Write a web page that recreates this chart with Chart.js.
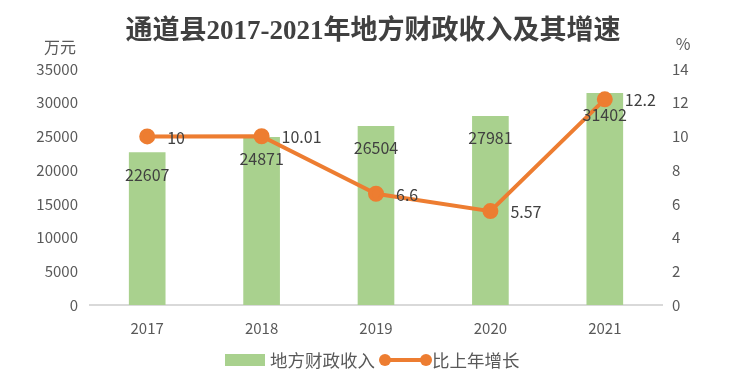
<!DOCTYPE html>
<html>
<head>
<meta charset="utf-8">
<script src="https://cdn.jsdelivr.net/npm/chart.js@4/dist/chart.umd.min.js"></script>
<style>
  html, body { margin: 0; padding: 0; background: #fff; }
  #wrap { width: 746px; height: 390px; }
</style>
</head>
<body>
<div id="wrap"><canvas id="c" width="746" height="390"></canvas></div>
<script>
// ── 数据 ──────────────────────────────────────────────
var years   = ['2017', '2018', '2019', '2020', '2021'];
var revenue = [22607, 24871, 26504, 27981, 31402];   // 万元
var growth  = [10, 10.01, 6.6, 5.57, 12.2];          // %
var growthLabels = ['10', '10.01', '6.6', '5.57', '12.2'];

var GREEN = '#A9D18E';
var ORANGE = '#ED7D31';
var TEXT = '#404040';
var TICK = '#595959';
var SANS = '"Microsoft YaHei", "Noto Sans CJK SC", "Open Sans", sans-serif';

// 标题、单位、数据标签、图例 —— 全部画在 canvas 上
var decor = {
  id: 'decor',
  afterDraw: function (chart) {
    var ctx = chart.ctx;
    ctx.save();

    // 标题
    ctx.fillStyle = TEXT;
    ctx.font = 'bold 27px "Liberation Serif", "Noto Sans CJK SC", serif';
    ctx.textAlign = 'center';
    ctx.textBaseline = 'middle';
    ctx.fillText('通道县2017-2021年地方财政收入及其增速', 373, 32);

    // 单位
    ctx.fillStyle = TICK;
    ctx.font = '16px ' + SANS;
    ctx.fillText('万元', 60, 47);
    ctx.fillText('%', 683, 44);

    // 柱子标签（柱顶内侧）
    ctx.fillStyle = TEXT;
    ctx.font = '16px ' + SANS;
    var bars = chart.getDatasetMeta(0).data;
    bars.forEach(function (b, i) {
      ctx.textAlign = 'center';
      ctx.fillText(String(revenue[i]), b.x, b.y + 22);
    });

    // 折线标签（点右侧）
    var pts = chart.getDatasetMeta(1).data;
    pts.forEach(function (p, i) {
      ctx.textAlign = 'left';
      ctx.fillText(growthLabels[i], p.x + 20, p.y + 1);
    });

    // 图例
    var ly = 360;
    ctx.fillStyle = GREEN;
    ctx.fillRect(225, ly - 6, 40, 12);
    ctx.fillStyle = TICK;
    ctx.font = '17.5px ' + SANS;
    ctx.textAlign = 'left';
    ctx.fillText('地方财政收入', 270, ly);
    ctx.strokeStyle = ORANGE;
    ctx.lineWidth = 4;
    ctx.beginPath();
    ctx.moveTo(385, ly);
    ctx.lineTo(426, ly);
    ctx.stroke();
    ctx.fillStyle = ORANGE;
    [385, 426].forEach(function (x) {
      ctx.beginPath();
      ctx.arc(x, ly, 6, 0, Math.PI * 2);
      ctx.fill();
    });
    ctx.fillStyle = TICK;
    ctx.fillText('比上年增长', 432, ly);

    ctx.restore();
  }
};

new Chart(document.getElementById('c').getContext('2d'), {
  data: {
    labels: years,
    datasets: [{
      type: 'bar',
      label: '地方财政收入',
      data: revenue,
      backgroundColor: GREEN,
      barThickness: 36,
      yAxisID: 'y',
      order: 2
    }, {
      type: 'line',
      label: '比上年增长',
      data: growth,
      borderColor: ORANGE,
      backgroundColor: ORANGE,
      borderWidth: 4,
      pointRadius: 6,
      pointBackgroundColor: ORANGE,
      pointBorderColor: ORANGE,
      tension: 0,
      yAxisID: 'y1',
      order: 1
    }]
  },
  options: {
    responsive: false,
    animation: false,
    layout: { padding: { top: 69, left: 0, right: 0, bottom: 0 } },
    plugins: {
      legend: { display: false },
      title: { display: false },
      tooltip: { enabled: false }
    },
    scales: {
      x: {
        grid: { display: false, drawTicks: false },
        border: { display: true, color: '#D9D9D9', width: 2 },
        ticks: { color: TICK, font: { size: 15, family: SANS }, padding: 14 },
        afterFit: function (s) { s.height = 85; }
      },
      y: {
        position: 'left',
        min: 0, max: 35000,
        grid: { display: false, drawTicks: false },
        border: { display: false },
        ticks: {
          stepSize: 5000, color: TICK, font: { size: 15, family: SANS }, padding: 12,
          callback: function (v) { return String(v); }
        },
        afterFit: function (s) { s.width = 90; }
      },
      y1: {
        position: 'right',
        min: 0, max: 14,
        grid: { display: false, drawTicks: false },
        border: { display: false },
        ticks: {
          stepSize: 2, color: TICK, font: { size: 15, family: SANS }, padding: 10,
          callback: function (v) { return String(v); }
        },
        afterFit: function (s) { s.width = 84; }
      }
    }
  },
  plugins: [decor]
});
</script>
</body>
</html>
